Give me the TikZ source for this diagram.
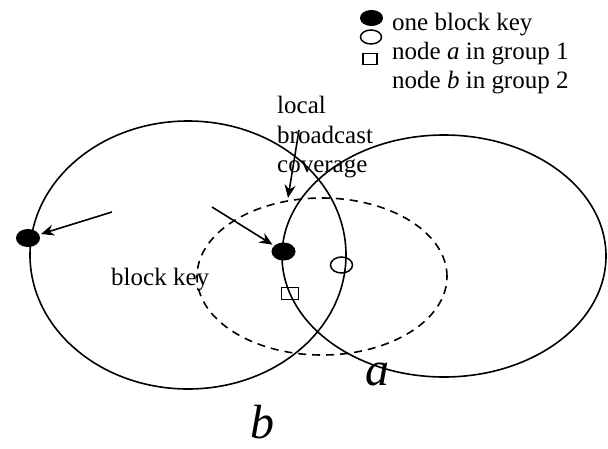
\documentclass[tikz,border=0pt]{standalone}
\usepackage{fontspec}
\setmainfont{Liberation Serif}
\usetikzlibrary{shapes.geometric,arrows.meta}
\begin{document}
\begin{tikzpicture}[x=1pt,y=-1pt,
  ring/.style={draw, line width=1.6pt, ellipse, inner sep=0pt},
  keydot/.style={ellipse, fill=black, draw, line width=1pt, inner sep=0pt,
                 minimum width=23pt, minimum height=17pt},
  nodea/.style={ellipse, draw, line width=1.5pt, inner sep=0pt,
                minimum width=22pt, minimum height=16pt},
  nodeb/.style={rectangle, draw, line width=1.5pt, inner sep=0pt,
                minimum width=17pt, minimum height=12pt},
  lbl/.style={font=\fontsize{25}{29}\selectfont, inner sep=0pt, anchor=base west},
  big/.style={font=\fontsize{48}{48}\selectfont\itshape, inner sep=0pt, anchor=base west},
  arr/.style={line width=1.6pt, -{Stealth[length=13pt,width=11pt]}, shorten >=2pt}
]
\useasboundingbox (0,0) rectangle (608,448);

% coverage areas of the two groups and the local broadcast range
\node[ring, minimum width=316pt, minimum height=268pt] (areab) at (188,255) {};
\node[ring, minimum width=324pt, minimum height=242pt] (areaa) at (444,256) {};
\node[ring, dashed, dash pattern=on 8pt off 6pt, minimum width=250pt, minimum height=157pt] (bcast) at (322,276.5) {};

% keys and nodes
\node[keydot] (keyleft) at (28,238) {};
\node[keydot] (keymid) at (283.5,251.5) {};
\node[nodea] (na) at (341.5,265) {};
\node[nodeb] (nb) at (290,293.5) {};

% labels
\node[lbl] (lblkey) at (111,285) {block key};
\node[lbl] (lblcov) at (277,113) {local};
\node[lbl] (lblcov2) at (277,143) {broadcast};
\node[lbl] (lblcov3) at (277,172) {coverage};
\node[big] (biga) at (365,385) {a};
\node[big] (bigb) at (250,438) {b};

% arrows
\coordinate (tailleft) at (112,212);
\coordinate (tailmid) at (212,207);
\coordinate (tailcov) at (299,130);
\coordinate (covtop) at (288,198);
\draw[arr] (tailleft) -- (keyleft);
\draw[arr] (tailmid) -- (keymid);
\draw[arr, shorten >=0pt] (tailcov) -- (covtop);

% legend
\node[keydot, minimum width=22pt, minimum height=15pt] (legkey) at (371.5,18) {};
\node[nodea, minimum width=21pt, minimum height=14pt] (lega) at (371,37) {};
\node[nodeb, minimum width=14pt, minimum height=11pt] (legb) at (370,59) {};
\node[lbl] (legt1) at (392,30) {one block key};
\node[lbl] (legt2) at (392,59) {node \textit{a} in group 1};
\node[lbl] (legt3) at (392,88) {node \textit{b} in group 2};
\end{tikzpicture}
\end{document}
